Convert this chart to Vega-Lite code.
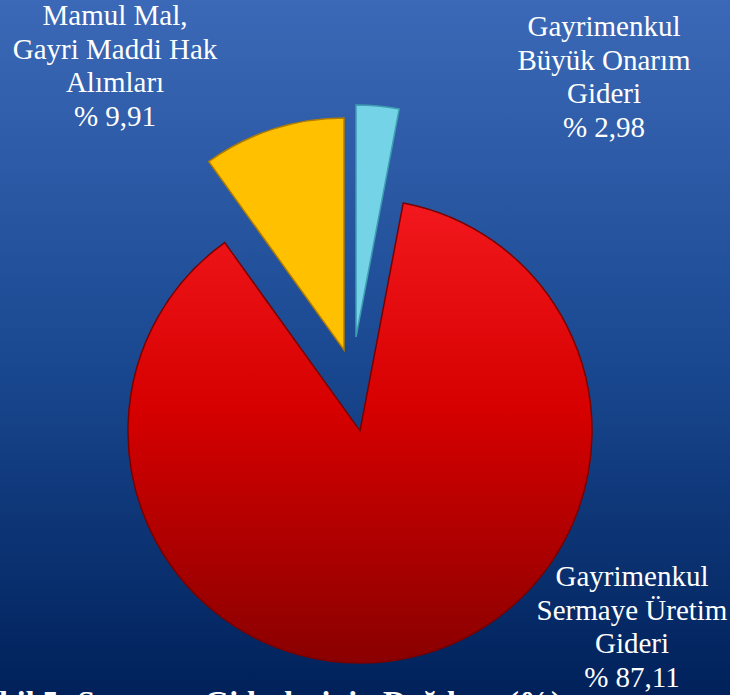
{
  "$schema": "https://vega.github.io/schema/vega-lite/v6.json",
  "width": 730,
  "height": 695,
  "autosize": {"type": "none"},
  "padding": 0,
  "background": "#1b4a93",
  "view": {"stroke": null},
  "config": {"font": "Liberation Serif"},
  "datasets": {
    "slices": [
      {"order": 1, "kalem": "Gayrimenkul Büyük Onarım Gideri", "value": 2.98, "label": "Gayrimenkul\nBüyük Onarım\nGideri\n% 2,98"},
      {"order": 2, "kalem": "Gayrimenkul Sermaye Üretim Gideri", "value": 87.11, "label": "Gayrimenkul\nSermaye Üretim\nGideri\n% 87,11"},
      {"order": 3, "kalem": "Mamul Mal, Gayri Maddi Hak Alımları", "value": 9.91, "label": "Mamul Mal,\nGayri Maddi Hak\nAlımları\n% 9,91"}
    ],
    "title": [
      {"text": "Şekil 5: Sermaye Giderlerinin Dağılımı (%)"}
    ]
  },
  "layer": [
    {
      "data": {"values": [{"bg": 1}]},
      "mark": {
        "type": "rect",
        "fill": {
          "gradient": "linear", "x1": 0, "y1": 0, "x2": 0, "y2": 1,
          "stops": [
            {"offset": 0, "color": "#3c69b7"},
            {"offset": 0.5, "color": "#1b4a93"},
            {"offset": 1, "color": "#00215a"}
          ]
        }
      },
      "encoding": {}
    },
    {
      "data": {"name": "slices"},
      "transform": [
        {"stack": "value", "groupby": [], "sort": [{"field": "order", "order": "ascending"}], "as": ["v0", "v1"]},
        {"filter": {"field": "order", "equal": 2}}
      ],
      "mark": {
        "type": "arc", "outerRadius": 232, "xOffset": -5, "yOffset": 83.5,
        "fill": {
          "gradient": "linear", "x1": 0, "y1": 0, "x2": 0, "y2": 1,
          "stops": [
            {"offset": 0, "color": "#f2181d"},
            {"offset": 0.45, "color": "#d60000"},
            {"offset": 1, "color": "#8a0000"}
          ]
        },
        "stroke": "#7a0000", "strokeWidth": 1.5
      },
      "encoding": {
        "theta": {"field": "v0", "type": "quantitative", "scale": {"domain": [0, 100]}},
        "theta2": {"field": "v1"}
      }
    },
    {
      "data": {"name": "slices"},
      "transform": [
        {"stack": "value", "groupby": [], "sort": [{"field": "order", "order": "ascending"}], "as": ["v0", "v1"]},
        {"filter": {"field": "order", "equal": 3}}
      ],
      "mark": {
        "type": "arc", "outerRadius": 232, "xOffset": -21, "yOffset": 2.5,
        "fill": "#ffc000", "stroke": "#b07d00", "strokeWidth": 1.5
      },
      "encoding": {
        "theta": {"field": "v0", "type": "quantitative", "scale": {"domain": [0, 100]}},
        "theta2": {"field": "v1"}
      }
    },
    {
      "data": {"name": "slices"},
      "transform": [
        {"stack": "value", "groupby": [], "sort": [{"field": "order", "order": "ascending"}], "as": ["v0", "v1"]},
        {"filter": {"field": "order", "equal": 1}}
      ],
      "mark": {
        "type": "arc", "outerRadius": 232, "xOffset": -9, "yOffset": -10.5,
        "fill": "#74d3e6", "stroke": "#3e9db2", "strokeWidth": 1.5
      },
      "encoding": {
        "theta": {"field": "v0", "type": "quantitative", "scale": {"domain": [0, 100]}},
        "theta2": {"field": "v1"}
      }
    },
    {
      "data": {"name": "slices"},
      "transform": [{"filter": {"field": "order", "equal": 1}}],
      "mark": {
        "type": "text", "align": "center", "baseline": "alphabetic", "lineBreak": "\n",
        "lineHeight": 33.5, "fontSize": 29, "color": "#ffffff", "font": "Liberation Serif",
        "dx": 239, "dy": -311.5
      },
      "encoding": {"text": {"field": "label", "type": "nominal"}}
    },
    {
      "data": {"name": "slices"},
      "transform": [{"filter": {"field": "order", "equal": 2}}],
      "mark": {
        "type": "text", "align": "center", "baseline": "alphabetic", "lineBreak": "\n",
        "lineHeight": 33.5, "fontSize": 29, "color": "#ffffff", "font": "Liberation Serif",
        "dx": 267, "dy": 238.5
      },
      "encoding": {"text": {"field": "label", "type": "nominal"}}
    },
    {
      "data": {"name": "slices"},
      "transform": [{"filter": {"field": "order", "equal": 3}}],
      "mark": {
        "type": "text", "align": "center", "baseline": "alphabetic", "lineBreak": "\n",
        "lineHeight": 33.5, "fontSize": 29, "color": "#ffffff", "font": "Liberation Serif",
        "dx": -250, "dy": -322.5
      },
      "encoding": {"text": {"field": "label", "type": "nominal"}}
    },
    {
      "data": {"name": "title"},
      "mark": {
        "type": "text", "align": "left", "baseline": "alphabetic",
        "fontSize": 32, "fontWeight": "bold", "color": "#ffffff", "font": "Liberation Serif",
        "dx": -398, "dy": 365
      },
      "encoding": {"text": {"field": "text", "type": "nominal"}}
    }
  ]
}
